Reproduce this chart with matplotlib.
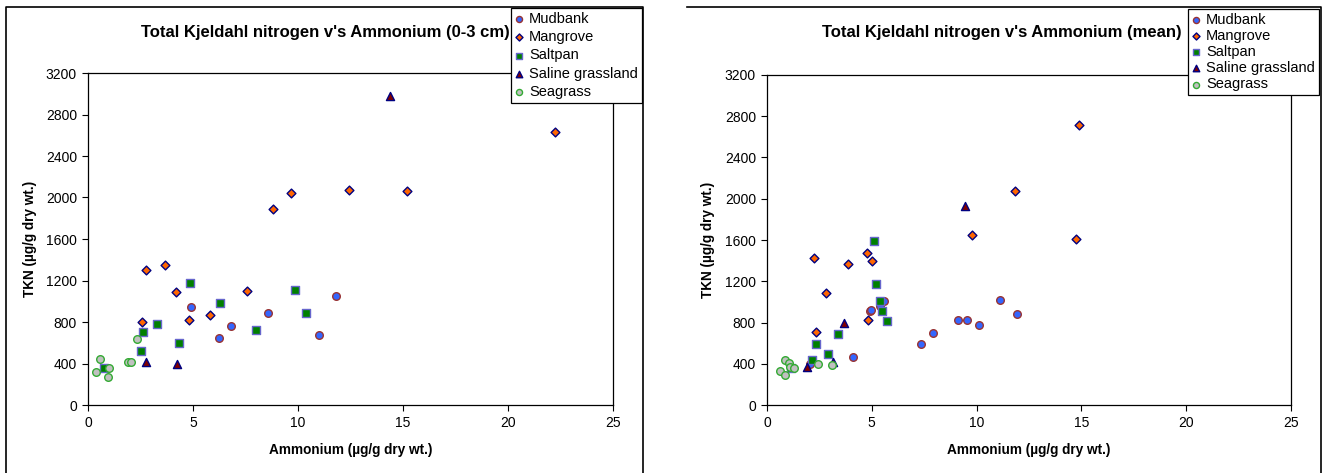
import matplotlib
matplotlib.use("Agg")
import matplotlib.pyplot as plt
from matplotlib.lines import Line2D

plt.rcParams['font.family'] = ['Liberation Sans', 'DejaVu Sans']

series = ["Mudbank", "Mangrove", "Saltpan", "Saline grassland", "Seagrass"]

# ---- Left panel (0-3 cm) ----
l_mud_x = [4.9, 6.25, 6.8, 8.55, 11.0, 11.8]
l_mud_y = [940, 650, 762, 884, 672, 1052]
l_man_x = [2.59, 2.75, 3.69, 4.2, 4.8, 5.82, 7.55, 8.8, 9.68, 12.43, 15.18, 22.23]
l_man_y = [801, 1302, 1347, 1090, 823, 868, 1100, 1891, 2039, 2071, 2058, 2628]
l_salt_x = [0.76, 2.51, 2.61, 3.27, 4.34, 4.88, 6.29, 8.01, 9.84, 10.36]
l_salt_y = [360, 518, 708, 785, 595, 1174, 984, 720, 1106, 884]
l_sg_x = [2.75, 4.24, 14.36]
l_sg_y = [418, 399, 2981]
l_sea_x = [0.38, 0.58, 0.96, 1.02, 1.89, 2.07, 2.33]
l_sea_y = [318, 441, 270, 360, 418, 418, 640]

# ---- Right panel (mean) ----
r_mud_x = [2.07, 4.12, 4.9, 4.95, 5.39, 5.59, 7.36, 7.91, 9.09, 9.55, 10.1, 11.13, 11.91]
r_mud_y = [393, 465, 907, 917, 963, 1005, 592, 702, 826, 826, 780, 1018, 881]
r_man_x = [2.23, 2.34, 2.83, 3.87, 4.75, 4.81, 5.03, 9.79, 11.82, 14.88, 14.72]
r_man_y = [1424, 706, 1089, 1369, 1470, 829, 1392, 1649, 2071, 2715, 1606]
r_salt_x = [1.15, 2.15, 2.32, 2.91, 3.39, 5.11, 5.22, 5.38, 5.51, 5.72]
r_salt_y = [360, 436, 589, 491, 689, 1587, 1171, 1005, 914, 813]
r_sg_x = [1.91, 3.15, 3.66, 9.43]
r_sg_y = [364, 413, 793, 1925]
r_sea_x = [0.6, 0.88, 0.88, 1.05, 1.1, 1.27, 2.42, 3.09]
r_sea_y = [332, 432, 289, 410, 365, 354, 400, 387]

titles = ["Total Kjeldahl nitrogen v's Ammonium (0-3 cm)",
          "Total Kjeldahl nitrogen v's Ammonium (mean)"]
xlabel = "Ammonium (\u00b5g/g dry wt.)"
ylabel = "TKN (\u00b5g/g dry wt.)"
xticks = [0, 5, 10, 15, 20, 25]
yticks = [0, 400, 800, 1200, 1600, 2000, 2400, 2800, 3200]

styles = [
    dict(marker='o', facecolor='#3366FF', edgecolor='#993333'),
    dict(marker='D', facecolor='#FF6600', edgecolor='#000080'),
    dict(marker='s', facecolor='#008000', edgecolor='#6666CC'),
    dict(marker='^', facecolor='#800000', edgecolor='#000080'),
    dict(marker='o', facecolor='#C0C0C0', edgecolor='#33AA33'),
]
sizes = [30, 20, 30, 34, 30]

W, H = 1325, 473
fig = plt.figure(figsize=(W / 100, H / 100), dpi=100)


def fline(xs, ys):
    fig.add_artist(Line2D([x / W for x in xs], [1 - y / H for y in ys],
                          transform=fig.transFigure, color='black', linewidth=1.2))


panels = [
    dict(data=[(l_mud_x, l_mud_y), (l_man_x, l_man_y), (l_salt_x, l_salt_y),
               (l_sg_x, l_sg_y), (l_sea_x, l_sea_y)],
         ax=(88, 613, 73, 405), leg=(511, 8), title_x=325, ylab_x=30,
         labelspacing=0.3),
    dict(data=[(r_mud_x, r_mud_y), (r_man_x, r_man_y), (r_salt_x, r_salt_y),
               (r_sg_x, r_sg_y), (r_sea_x, r_sea_y)],
         ax=(767, 1291, 75, 405), leg=(1188, 9), title_x=1002, ylab_x=708,
         labelspacing=0.15),
]

# outer chart-area borders (as drawn in the reference)
fline([6, 6, 643, 643], [473, 7, 7, 473])
fline([687, 1321, 1321], [7, 7, 473])

for i, p in enumerate(panels):
    x0, x1, y0, y1 = p['ax']
    ax = fig.add_axes([x0 / W, 1 - y1 / H, (x1 - x0) / W, (y1 - y0) / H])
    for (xs, ys), st, nm, s in zip(p['data'], styles, series, sizes):
        ax.scatter(xs, ys, s=s, marker=st['marker'], facecolor=st['facecolor'],
                   edgecolor=st['edgecolor'], linewidths=1.0, label=nm, zorder=3)
    ax.set_xlim(0, 25)
    ax.set_ylim(0, 3200)
    ax.set_xticks(xticks)
    ax.set_yticks(yticks)
    ax.tick_params(direction='out', length=4, width=0.8, labelsize=10, pad=4)
    for sp in ax.spines.values():
        sp.set_linewidth(0.9)
        sp.set_color('black')
    ax.set_xlabel(xlabel, fontsize=9.8, fontweight='bold', labelpad=9)
    fig.text(p['ylab_x'] / W, 1 - ((y0 + y1) / 2) / H, ylabel, rotation=90,
             ha='center', va='center', fontsize=9.8, fontweight='bold')
    fig.text(p['title_x'] / W, 1 - 33 / H, titles[i], ha='center',
             va='center', fontsize=12, fontweight='bold')
    lx, ly = p['leg']
    leg = ax.legend(loc='upper left', bbox_to_anchor=(lx / W, 1 - ly / H),
                    bbox_transform=fig.transFigure, fontsize=10.5, frameon=True,
                    fancybox=False, edgecolor='black', framealpha=1,
                    handlelength=0.6, handletextpad=0.4, borderpad=0.25,
                    labelspacing=p['labelspacing'], borderaxespad=0,
                    markerscale=0.8)
    leg.get_frame().set_linewidth(0.9)
    leg.set_zorder(5)

fig.savefig("out.png", dpi=100)
